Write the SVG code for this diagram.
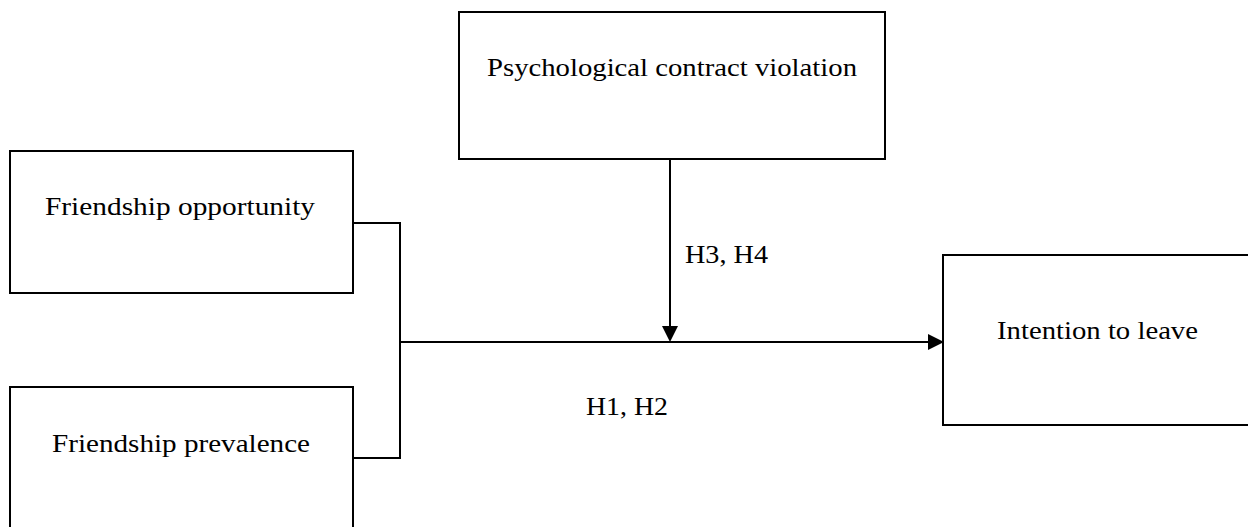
<svg xmlns="http://www.w3.org/2000/svg" width="1248" height="527" viewBox="0 0 1248 527">
<defs>
<style>
.box{fill:#fff;stroke:#000;stroke-width:2}
.lbl{font-family:"Liberation Serif","DejaVu Serif",serif;font-size:25px;fill:#000}
.ln{fill:none;stroke:#000;stroke-width:2}
</style>
<marker id="arr" viewBox="0 0 10 10" refX="10" refY="5" markerWidth="8" markerHeight="8" markerUnits="userSpaceOnUse" orient="auto">
<path d="M0,0 L10,5 L0,10 z" fill="#000"/>
</marker>
</defs>
<rect width="1248" height="527" fill="#fff"/>
<g id="pcv">
<rect class="box" x="459" y="12" width="426" height="147"/>
<text class="lbl" x="487" y="76" textLength="370" lengthAdjust="spacingAndGlyphs">Psychological contract violation</text>
</g>
<g id="fo">
<rect class="box" x="10" y="151" width="343" height="142"/>
<text class="lbl" x="45" y="215" textLength="270" lengthAdjust="spacingAndGlyphs">Friendship opportunity</text>
</g>
<g id="fp">
<rect class="box" x="10" y="387" width="343" height="150"/>
<text class="lbl" x="52" y="452" textLength="258" lengthAdjust="spacingAndGlyphs">Friendship prevalence</text>
</g>
<g id="itl">
<rect class="box" x="943" y="255" width="310" height="170"/>
<text class="lbl" x="997" y="339" textLength="201" lengthAdjust="spacingAndGlyphs">Intention to leave</text>
</g>
<g id="connectors">
<polyline class="ln" points="353,223 400,223 400,458 353,458"/>
<path d="M400,342 L928,342" class="ln"/>
<path d="M928,334 L944,342 L928,350 z" fill="#000"/>
<path d="M670,159 L670,327" class="ln"/>
<path d="M662,326 L670,342 L678,326 z" fill="#000"/>
<text class="lbl" x="685" y="263" textLength="83" lengthAdjust="spacingAndGlyphs">H3, H4</text>
<text class="lbl" x="586" y="415" textLength="82" lengthAdjust="spacingAndGlyphs">H1, H2</text>
</g>
</svg>
